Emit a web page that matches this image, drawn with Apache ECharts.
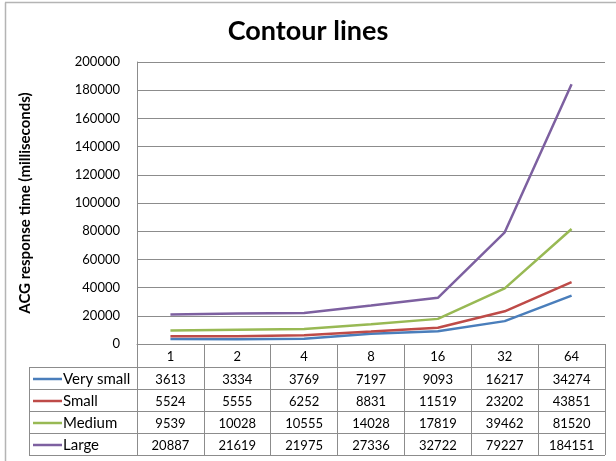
<!DOCTYPE html>
<html>
<head>
<meta charset="utf-8">
<script src="https://cdn.jsdelivr.net/npm/echarts@6/dist/echarts.min.js"></script>
<style>
  html, body { margin: 0; padding: 0; background: #fff; }
  #chart { width: 616px; height: 461px; }
</style>
</head>
<body>
<div id="chart"></div>
<script>
// Thread counts along the x axis
const categories = ['1', '2', '4', '8', '16', '32', '64'];

// ACG response time per dataset size (milliseconds)
const verySmall = [3613, 3334, 3769, 7197, 9093, 16217, 34274];
const small     = [5524, 5555, 6252, 8831, 11519, 23202, 43851];
const medium    = [9539, 10028, 10555, 14028, 17819, 39462, 81520];
const large     = [20887, 21619, 21975, 27336, 32722, 79227, 184151];

const seriesNames = ['Very small', 'Small', 'Medium', 'Large'];
const seriesData = [verySmall, small, medium, large];
const colors = ['#4A7EBB', '#BE4B48', '#98B954', '#7D60A0'];

const FONT = 'Lato, "Open Sans", sans-serif';
const GRID_LEFT = 137, GRID_RIGHT = 605, GRID_TOP = 62, GRID_BOTTOM = 344;
const TABLE_LEFT = 29;
const HEADER_H = 23, ROW_H = 22;
const lineColor = '#8c8c8c';

// Data-table rows drawn as extra category axes whose labels are the row values
const tableAxes = seriesData.map((vals, i) => ({
  type: 'category',
  gridIndex: 0,
  position: 'bottom',
  data: categories,
  axisLine: { show: false },
  axisTick: { show: false },
  splitLine: { show: false },
  axisLabel: {
    interval: 0,
    margin: HEADER_H + ROW_H * i + ROW_H / 2 + 2,
    verticalAlign: 'middle',
    fontFamily: FONT,
    fontSize: 13,
    color: '#000',
    formatter: (v, idx) => String(vals[idx])
  }
}));

// Horizontal table rules and the left border of the legend column
const tableGraphics = [];
for (let i = 0; i <= seriesData.length; i++) {
  const y = GRID_BOTTOM + HEADER_H + ROW_H * i + 0.5;
  tableGraphics.push({
    type: 'line', silent: true,
    shape: { x1: TABLE_LEFT, y1: y, x2: GRID_RIGHT, y2: y },
    style: { stroke: lineColor, lineWidth: 1 }
  });
}
tableGraphics.push({
  type: 'line', silent: true,
  shape: { x1: TABLE_LEFT + 0.5, y1: GRID_BOTTOM + HEADER_H, x2: TABLE_LEFT + 0.5, y2: GRID_BOTTOM + HEADER_H + ROW_H * seriesData.length },
  style: { stroke: lineColor, lineWidth: 1 }
});

// Legend keys in the first table column: a short coloured line and the series name
seriesNames.forEach((name, i) => {
  const cy = GRID_BOTTOM + HEADER_H + ROW_H * i + ROW_H / 2 + 1;
  tableGraphics.push({
    type: 'line', silent: true,
    shape: { x1: TABLE_LEFT + 4, y1: cy, x2: TABLE_LEFT + 33, y2: cy },
    style: { stroke: colors[i], lineWidth: 2.5 }
  });
  tableGraphics.push({
    type: 'text', silent: true,
    x: TABLE_LEFT + 34, y: cy,
    style: {
      text: name, fontFamily: FONT, fontSize: 15, fill: '#000',
      verticalAlign: 'middle', align: 'left'
    }
  });
});

const option = {
  backgroundColor: '#fff',
  animation: false,
  title: {
    text: 'Contour lines',
    left: 'center',
    top: 13,
    textStyle: { fontFamily: FONT, fontSize: 27, fontWeight: 'bold', color: '#000' }
  },
  grid: {
    left: GRID_LEFT,
    right: 616 - GRID_RIGHT,
    top: GRID_TOP,
    bottom: 461 - GRID_BOTTOM,
    containLabel: false
  },
  xAxis: [{
    type: 'category',
    gridIndex: 0,
    position: 'bottom',
    data: categories,
    boundaryGap: true,
    axisLine: { show: true, lineStyle: { color: lineColor } },
    axisTick: {
      show: true, interval: 0, inside: false,
      length: HEADER_H + ROW_H * seriesData.length,
      lineStyle: { color: lineColor }
    },
    axisLabel: {
      interval: 0, margin: HEADER_H / 2 + 1, verticalAlign: 'middle',
      fontFamily: FONT, fontSize: 13, color: '#000'
    },
    splitLine: { show: false }
  }].concat(tableAxes),
  yAxis: {
    type: 'value',
    min: 0,
    max: 200000,
    interval: 20000,
    name: 'ACG response time (milliseconds)',
    nameLocation: 'middle',
    nameGap: 104,
    nameTextStyle: { fontFamily: FONT, fontSize: 15, fontWeight: 'bold', color: '#000' },
    axisLine: { show: true, lineStyle: { color: lineColor } },
    axisTick: { show: false },
    axisLabel: {
      fontFamily: FONT, fontSize: 13, color: '#000', margin: 17,
      formatter: v => String(v)
    },
    splitLine: { show: true, lineStyle: { color: lineColor, width: 1 } }
  },
  series: seriesData.map((vals, i) => ({
    name: seriesNames[i],
    type: 'line',
    xAxisIndex: 0,
    data: vals,
    symbol: 'none',
    lineStyle: { color: colors[i], width: 2.5 },
    itemStyle: { color: colors[i] }
  })),
  graphic: [
    // outer chart frame (top and left edges)
    { type: 'line', silent: true, shape: { x1: 5, y1: 2.5, x2: 616, y2: 2.5 }, style: { stroke: '#b4b4b4', lineWidth: 1.5 } },
    { type: 'line', silent: true, shape: { x1: 5.5, y1: 2.5, x2: 5.5, y2: 461 }, style: { stroke: '#b4b4b4', lineWidth: 1.5 } }
  ].concat(tableGraphics)
};

const chart = echarts.init(document.getElementById('chart'), null, { renderer: 'canvas' });
chart.setOption(option);
</script>
</body>
</html>
